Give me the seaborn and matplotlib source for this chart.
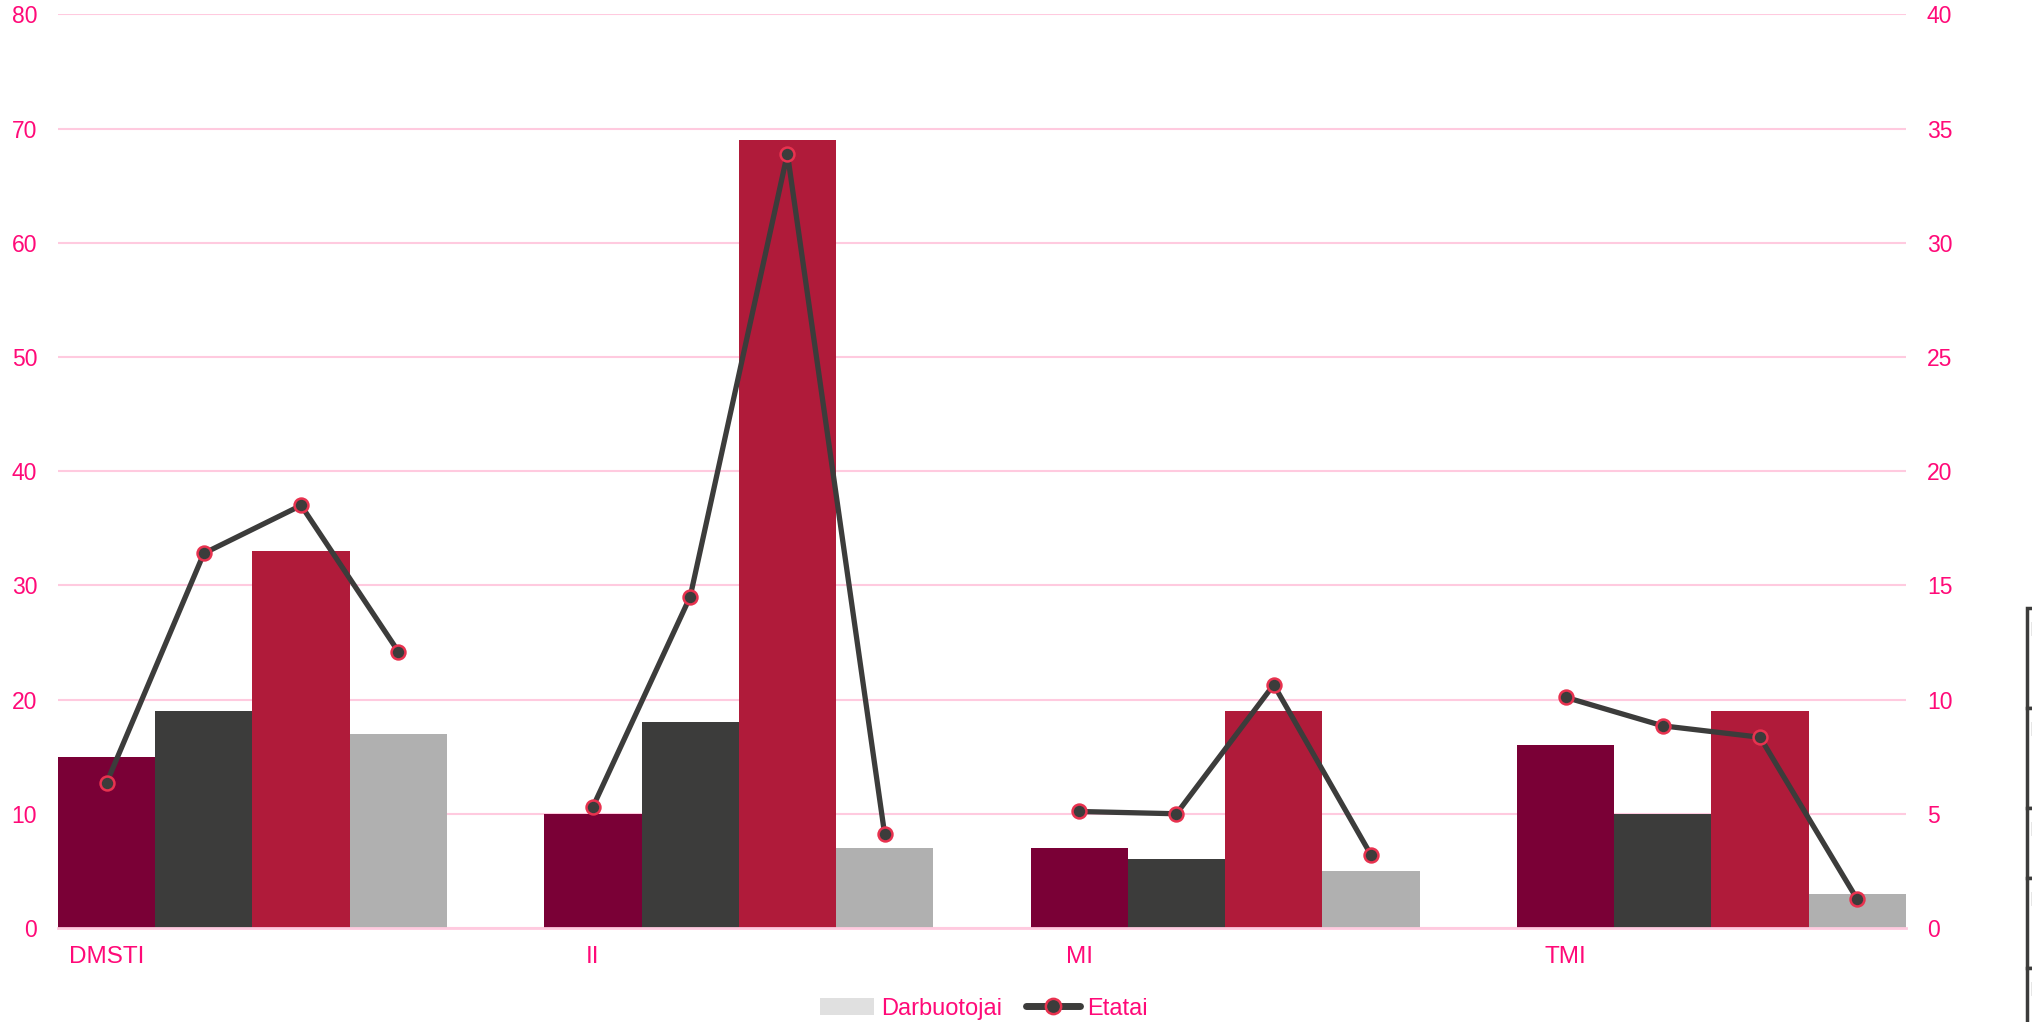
import matplotlib
matplotlib.use("Agg")
import matplotlib.pyplot as plt
import seaborn as sns
import pandas as pd
import numpy as np
from matplotlib.patches import Rectangle
from matplotlib.lines import Line2D
from matplotlib.patches import Patch

# ---- data ----
categories = ["DMSTI", "II", "MI", "TMI"]
series_names = ["S1", "S2", "S3", "S4"]
darbuotojai = {
    "S1": [15, 10, 7, 16],
    "S2": [19, 18, 6, 10],
    "S3": [33, 69, 19, 19],
    "S4": [17, 7, 5, 3],
}
etatai = {
    "S1": [6.35, 5.3, 5.1, 10.1],
    "S2": [16.4, 14.5, 5.0, 8.85],
    "S3": [18.5, 33.9, 10.65, 8.35],
    "S4": [12.1, 4.1, 3.2, 1.25],
}
left_ticks = [0, 10, 20, 30, 40, 50, 60, 70, 80]
right_ticks = [0, 5, 10, 15, 20, 25, 30, 35, 40]
legend_labels = ["Darbuotojai", "Etatai"]

bar_colors = ["#7A0036", "#3C3C3B", "#B01B3A", "#B0B0B0"]
pink = "#FF0A78"
grid_pink = "#FFCADF"

rows = []
for s in series_names:
    for c, v in zip(categories, darbuotojai[s]):
        rows.append({"cat": c, "series": s, "value": v})
df = pd.DataFrame(rows)

sns.set_theme(style="white")
plt.rcParams["font.family"] = ["Liberation Sans", "DejaVu Sans"]

fig = plt.figure(figsize=(20.33, 10.22), dpi=100)
ax = fig.add_axes([0.0285, 0.092, 0.909, 0.894])

sns.barplot(data=df, x="cat", y="value", hue="series", order=categories,
            hue_order=series_names, palette=bar_colors, width=0.8,
            saturation=1, ax=ax, legend=False, errorbar=None, linewidth=0)

ax.set_xlim(-0.4, 3.4)
ax.set_ylim(0, 80)
ax.set_yticks(left_ticks)
ax.set_yticklabels([str(t) for t in left_ticks])
ax.set_xlabel("")
ax.set_ylabel("")
for sp in ["top", "right", "left"]:
    ax.spines[sp].set_visible(False)
ax.spines["bottom"].set_color(grid_pink)
ax.spines["bottom"].set_linewidth(2)
ax.yaxis.grid(True, color=grid_pink, linewidth=1.5)
ax.set_axisbelow(True)
ax.tick_params(axis="both", length=0, colors=pink)
ax.tick_params(axis="y", pad=15, labelsize=16.5)
ax.tick_params(axis="x", labelsize=17.5, pad=13)

# bar centres from the library's drawn patches
centers = {}
for s, cont in zip(series_names, ax.containers):
    centers[s] = [p.get_x() + p.get_width() / 2 for p in cont.patches]

first_centers = centers[series_names[0]]
ax.set_xticks(first_centers)
ax.set_xticklabels(categories)

# line: one segment per category
lrows = []
for ci, c in enumerate(categories):
    for k, s in enumerate(series_names):
        lrows.append({"x": centers[s][ci], "y": etatai[s][ci], "cat": c, "order": k})
ldf = pd.DataFrame(lrows)

ax2 = ax.twinx()
sns.lineplot(data=ldf, x="x", y="y", units="cat", estimator=None, ax=ax2,
             color="#3C3C3B", linewidth=3.8, sort=False,
             marker="o", markersize=10, markerfacecolor="#3C3C3B",
             markeredgecolor="#E8324F", markeredgewidth=1.8, legend=False)
ax2.set_ylim(0, 40)
ax2.set_yticks(right_ticks)
ax2.set_yticklabels([str(t) for t in right_ticks])
ax2.set_xlim(-0.4, 3.4)
ax2.set_xlabel("")
ax2.set_ylabel("")
for sp in ["top", "right", "left", "bottom"]:
    ax2.spines[sp].set_visible(False)
ax2.tick_params(axis="y", length=0, colors=pink, labelsize=16.5, pad=15)
ax2.grid(False)

handles = [
    Patch(facecolor="#E0E0E0", edgecolor="none"),
    Line2D([0], [0], color="#3C3C3B", linewidth=5, marker="o", markersize=11,
           markerfacecolor="#3C3C3B", markeredgecolor="#E8324F", markeredgewidth=1.8),
]
leg = fig.legend(handles, legend_labels, loc="center", bbox_to_anchor=(0.484, 0.013),
                 ncol=2, frameon=False, fontsize=17, handlelength=2.3,
                 handleheight=0.7, columnspacing=1.0, handletextpad=0.3)
for t in leg.get_texts():
    t.set_color(pink)

# artefact box at the right edge
tops = [608, 708, 808, 878, 968]
bots = [708, 808, 878, 968, 1040]
for t, b in zip(tops, bots):
    fig.add_artist(Rectangle((2027, 1022 - b), 30, b - t, transform=None,
                             facecolor="white", edgecolor="#3C3C3B", linewidth=2.5,
                             clip_on=False))
    fig.text(2029 / 2033, 1 - (t + 22) / 1022, "I", color="#3C3C3B", fontsize=15,
             va="center", ha="left")

fig.savefig("out.png", dpi=100)
